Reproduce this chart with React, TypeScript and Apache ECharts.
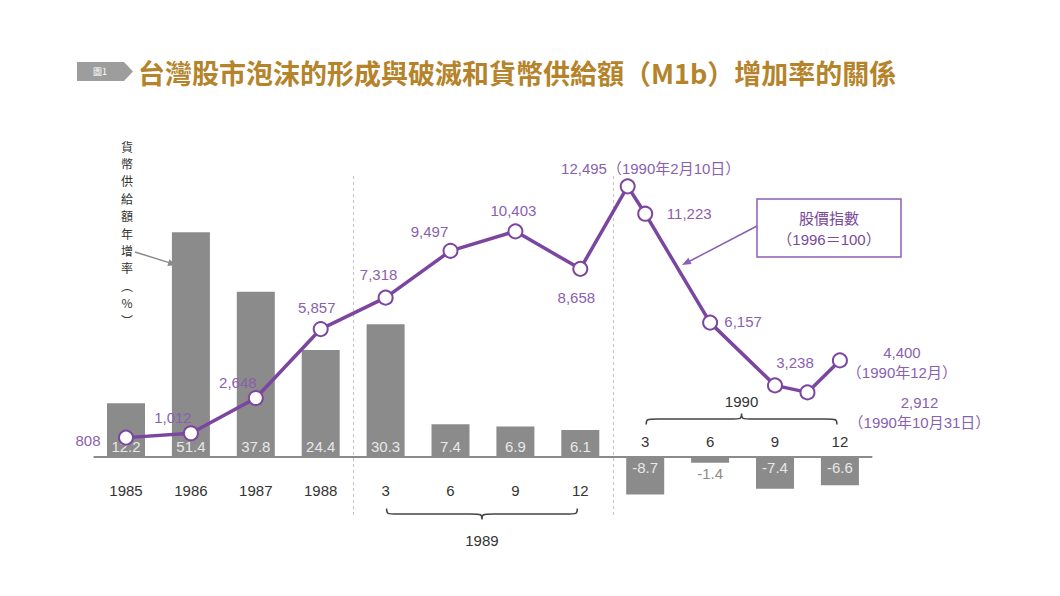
import { useEffect, useRef } from 'react';
import * as echarts from 'echarts';

// bar chart: M1b annual growth (%)
const categories = ['1985', '1986', '1987', '1988', '3', '6', '9', '12', '3', '6', '9', '12'];
const m1bGrowth = [12.2, 51.4, 37.8, 24.4, 30.3, 7.4, 6.9, 6.1, -8.7, -1.4, -7.4, -6.6];

// line chart: stock index (1996 = 100), x = position on the category scale
const indexPos = [0, 1, 2, 3, 4, 5, 6, 7, 7.73, 8, 9, 10, 10.5, 11];
const indexValues = [808, 1012, 2648, 5857, 7318, 9497, 10403, 8658, 12495, 11223, 6157, 3238, 2912, 4400];
const indexNotes = ['', '', '', '', '', '', '', '', '（1990年2月10日）', '', '', '', '（1990年10月31日）', '（1990年12月）'];

// year braces under / over the month labels
const braceFrom = [4, 8];
const braceTo = [7, 11];
const braceYears = ['1989', '1990'];

const axisTitle = '貨幣供給額年增率︵%︶';

const FONT = "'Liberation Sans', 'Noto Sans CJK TC', sans-serif";
const CJK = "'Noto Sans CJK TC', sans-serif";
const PURPLE = '#7b46a0';
const PURPLE_TEXT = '#8a5fae';
const BAR = '#8b8b8b';

// label placement relative to each point [dx, dy]
const pointLabelOffsets = [
  [-38, 3], [-18, -16], [-18, -16], [-4, -22], [-7, -23], [-21, -19], [-2, -21],
  [-4, 29], [23, -18], [44, 0], [33, -1], [20, -23], [112, 20], [62, 2],
];

export default function App() {
  const chartRef = useRef<HTMLDivElement>(null);

  useEffect(() => {
    if (!chartRef.current) return;
    const chart = echarts.init(chartRef.current, undefined, { renderer: 'svg' });

    const fmt = (v: number) => v.toLocaleString('en-US');

    const lineData = indexValues.map((v, i) => {
      const note = indexNotes[i];
      const text = note ? (i === 8 ? fmt(v) + note : fmt(v) + '\n' + note) : fmt(v);
      return {
        value: [indexPos[i], v],
        label: { formatter: text, offset: pointLabelOffsets[i] },
      };
    });

    const barData = m1bGrowth.map((v) => {
      const small = v < 0 && v > -3;
      return {
        value: v,
        label: {
          position: v >= 0 ? 'insideBottom' : small ? 'bottom' : 'insideTop',
          color: small ? '#8b8b8b' : '#e8e8e8',
        },
      };
    });

    const braceRender = (params: any, api: any) => {
      const i = params.dataIndex;
      const p1 = api.coord([api.value(0), 0]);
      const p2 = api.coord([api.value(1), 0]);
      const x1 = p1[0] + 1;
      const x2 = p2[0] - 3;
      const xm = (x1 + x2) / 2;
      const below = i === 0;
      const t = below ? p1[1] + 52 : p1[1] - 32;
      const h = below ? 11 : -11;
      const m = t + h / 2;
      const r = 12;
      const d =
        `M${x1},${t} C${x1},${m} ${x1},${m} ${x1 + r},${m} L${xm - r},${m} ` +
        `C${xm},${m} ${xm},${m} ${xm},${t + h} C${xm},${m} ${xm},${m} ${xm + r},${m} ` +
        `L${x2 - r},${m} C${x2},${m} ${x2},${m} ${x2},${t}`;
      return {
        type: 'group',
        children: [
          {
            type: 'path',
            shape: { pathData: d },
            style: { stroke: '#444', lineWidth: 1.5, fill: 'none' },
          },
          {
            type: 'text',
            x: xm,
            y: below ? t + 32 : t - 23,
            style: {
              text: braceYears[i],
              fill: '#333',
              font: `15px ${FONT}`,
              align: 'center',
              verticalAlign: 'middle',
            },
          },
        ],
      };
    };

    const titleChars = Array.from(axisTitle).map((ch, i) => ({
      type: 'text',
      x: 127,
      y: 146 + i * 17.4,
      style: { text: ch, fill: '#333', font: `12px ${CJK}`, align: 'center', verticalAlign: 'middle' },
    }));

    chart.setOption({
      animation: false,
      backgroundColor: '#fff',
      grid: { left: 93.55, right: 187.65, top: 173, bottom: 81 },
      xAxis: [
        {
          type: 'category',
          data: categories,
          position: 'bottom',
          axisLine: { show: false, onZero: false },
          axisTick: { show: false },
          axisLabel: {
            inside: true,
            margin: 17,
            color: '#333',
            fontSize: 15,
            fontFamily: FONT,
            interval: 0,
            formatter: (v: string, idx: number) => (idx < 8 ? v : ''),
          },
        },
        {
          type: 'category',
          data: categories,
          position: 'bottom',
          axisLine: { show: false, onZero: false },
          axisTick: { show: false },
          axisLabel: {
            inside: true,
            margin: 66,
            color: '#333',
            fontSize: 15,
            fontFamily: FONT,
            interval: 0,
            formatter: (v: string, idx: number) => (idx >= 8 ? v : ''),
          },
        },
        { type: 'value', show: false, min: -0.5, max: 11.5 },
      ],
      yAxis: [
        { type: 'value', show: false, min: -13.4, max: 65 },
        { type: 'value', show: false, min: -2791, max: 13116 },
      ],
      series: [
        {
          type: 'bar',
          xAxisIndex: 0,
          yAxisIndex: 0,
          barWidth: 38,
          data: barData,
          itemStyle: { color: BAR },
          label: { show: true, distance: 3, fontSize: 15, fontFamily: FONT },
          markLine: {
            silent: true,
            symbol: 'none',
            label: { show: false },
            lineStyle: { color: BAR, type: 'solid', width: 2 },
            data: [{ yAxis: 0 }],
          },
          z: 2,
        },
        {
          type: 'custom',
          xAxisIndex: 0,
          yAxisIndex: 0,
          renderItem: braceRender,
          data: braceFrom.map((f, i) => [f, braceTo[i]]),
          encode: { x: [0, 1] },
          silent: true,
          clip: false,
        },
        {
          type: 'line',
          xAxisIndex: 2,
          yAxisIndex: 1,
          data: lineData,
          clip: false,
          symbol: 'circle',
          symbolSize: 14,
          lineStyle: { color: PURPLE, width: 3.5 },
          itemStyle: { color: '#fff', borderColor: PURPLE, borderWidth: 2 },
          label: {
            show: true,
            position: 'inside',
            color: PURPLE_TEXT,
            fontSize: 15,
            lineHeight: 20,
            align: 'center',
            fontFamily: FONT,
          },
          markLine: {
            silent: true,
            symbol: 'none',
            label: { show: false },
            lineStyle: { color: '#c4c4c4', type: [3, 3], width: 1 },
            data: [{ xAxis: 3.5 }, { xAxis: 7.5 }],
          },
          z: 5,
        },
      ],
      graphic: [
        {
          type: 'polygon',
          shape: { points: [[77, 62], [124, 62], [133, 71.5], [124, 81], [77, 81]] },
          style: { fill: '#9d9d9d' },
        },
        {
          type: 'text',
          x: 100,
          y: 71.5,
          style: { text: '圖1', fill: '#fff', font: `9px ${CJK}`, align: 'center', verticalAlign: 'middle' },
        },
        {
          type: 'text',
          x: 138,
          y: 72,
          style: {
            text: '台灣股市泡沫的形成與破滅和貨幣供給額（M1b）增加率的關係',
            fill: '#b5832a',
            font: `bold 27px ${CJK}`,
            verticalAlign: 'middle',
          },
        },
        ...titleChars,
        {
          type: 'line',
          shape: { x1: 135, y1: 252, x2: 169, y2: 262.6 },
          style: { stroke: '#8b8b8b', lineWidth: 1.5 },
        },
        {
          type: 'polygon',
          shape: { points: [[176, 265], [167.3, 265.9], [169.4, 259.2]] },
          style: { fill: '#8b8b8b' },
        },
        {
          type: 'rect',
          shape: { x: 757, y: 199, width: 144, height: 58 },
          style: { fill: '#fff', stroke: '#8a5fb0', lineWidth: 1.5 },
        },
        {
          type: 'text',
          x: 829,
          y: 217,
          style: { text: '股價指數', fill: '#7a4a9a', font: `15px ${CJK}`, align: 'center', verticalAlign: 'middle' },
        },
        {
          type: 'text',
          x: 829,
          y: 239,
          style: { text: '（1996＝100）', fill: '#7a4a9a', font: `15px ${FONT}`, align: 'center', verticalAlign: 'middle' },
        },
        {
          type: 'line',
          shape: { x1: 757, y1: 226, x2: 690, y2: 261 },
          style: { stroke: '#8a5fb0', lineWidth: 1.5 },
        },
        {
          type: 'polygon',
          shape: { points: [[682, 265], [688.4, 257.7], [691.6, 264]] },
          style: { fill: '#8a5fb0' },
        },
      ],
    });

    return () => {
      chart.dispose();
    };
  }, []);

  return (
    <div
      ref={chartRef}
      style={{ position: 'absolute', left: 0, top: 0, width: 1060, height: 596, background: '#fff' }}
    />
  );
}
